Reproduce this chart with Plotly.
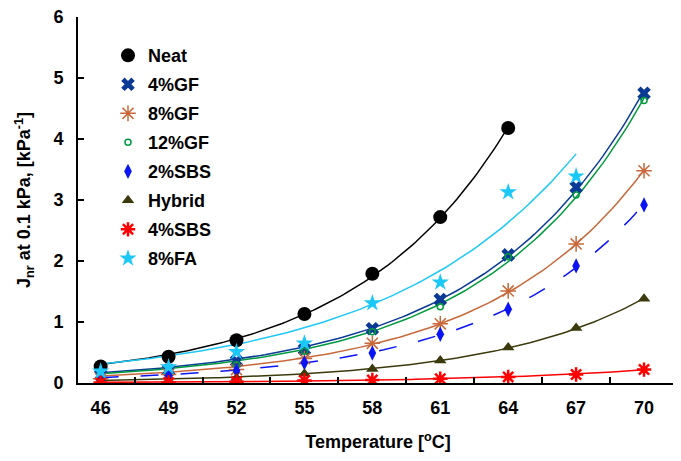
import numpy as np
import plotly.graph_objects as go

temps = [46, 49, 52, 55, 58, 61, 64, 67, 70]
tick_labels = ["46", "49", "52", "55", "58", "61", "64", "67", "70"]

neat = [0.27, 0.43, 0.70, 1.13, 1.79, 2.72, 4.18]
gf4 = [0.13, 0.21, 0.36, 0.55, 0.89, 1.37, 2.10, 3.21, 4.75]
gf8 = [0.07, 0.14, 0.22, 0.40, 0.65, 0.97, 1.51, 2.28, 3.48]
gf12 = [0.10, 0.18, 0.30, 0.52, 0.84, 1.25, 2.07, 3.08, 4.63]
sbs2 = [0.05, 0.12, 0.20, 0.33, 0.49, 0.80, 1.21, 1.92, 2.92]
hybrid = [0.02, 0.04, 0.08, 0.15, 0.23, 0.37, 0.58, 0.90, 1.38]
sbs4 = [0.01, 0.01, 0.02, 0.04, 0.05, 0.07, 0.10, 0.14, 0.22]
fa8 = [0.19, 0.26, 0.51, 0.65, 1.31, 1.65, 3.13, 3.39]

names = ["Neat", "4%GF", "8%GF", "12%GF", "2%SBS", "Hybrid", "4%SBS", "8%FA"]
series = [neat, gf4, gf8, gf12, sbs2, hybrid, sbs4, fa8]
colors = ["#000000", "#0B3A96", "#C8683A", "#009A3E", "#0A14F5", "#3A3A0C", "#FF0000", "#1CC8F8"]
symbols = ["circle", "x", "asterisk-open", "circle-open", "diamond-tall", "triangle-up", "asterisk-open", "star"]
sizes = [14, 12, 13, 6, 11, 11, 12, 13]
mlw = [0, 0, 1.5, 1.5, 0, 0, 2.5, 0]
dashes = ["solid", "solid", "solid", "solid", "18px,22px", "solid", "solid", "solid"]

fig = go.Figure()

# exponential trendlines (least squares fit of y = A*exp(B*T), weighted log fit)
for vals, c, d in zip(series, colors, dashes):
    xs = np.array(temps[:len(vals)], dtype=float)
    yv = np.array(vals, dtype=float)
    b, a = np.polyfit(xs, np.log(yv), 1, w=yv)
    xf = np.linspace(xs[0], xs[-1], 120)
    fig.add_trace(go.Scatter(x=xf, y=np.exp(a + b * xf), mode="lines",
                             line=dict(color=c, width=1.5, dash=d),
                             showlegend=False, hoverinfo="skip"))

for i, (nm, vals, c, s, sz, lw) in enumerate(zip(names, series, colors, symbols, sizes, mlw)):
    fig.add_trace(go.Scatter(x=temps[:len(vals)], y=vals, mode="markers", name=nm,
                             legendgroup=nm,
                             marker=dict(symbol=s, size=sz, color=c,
                                         line=dict(color=c, width=lw))))

font_b = dict(family="Liberation Sans, Arial, sans-serif", size=18, color="black", weight="bold")

# the page body has an 8px margin, so the figure is sized to fit the window
fig.update_layout(
    width=673, height=453,
    margin=dict(l=70, r=3, t=9, b=78),
    plot_bgcolor="white", paper_bgcolor="white",
    font=font_b,
    xaxis=dict(range=[45, 71.5], tickmode="array", tickvals=temps, ticktext=tick_labels,
               ticks="", showline=True, linecolor="black", linewidth=2, showgrid=False,
               zeroline=False, ticklabelstandoff=7, automargin=False,
               minor=dict(tickmode="linear", tick0=47.5, dtick=3, ticks="inside",
                          ticklen=6, tickwidth=2, tickcolor="black", showgrid=False),
               title=dict(text="Temperature [<sup>o</sup>C]", font=font_b, standoff=19)),
    yaxis=dict(range=[0, 6], tickvals=[0, 1, 2, 3, 4, 5, 6], ticks="inside", ticklen=6,
               tickwidth=2, tickcolor="black", showline=True, linecolor="black", linewidth=2,
               showgrid=False, zeroline=False, ticklabelstandoff=9, automargin=False,
               ticklabeloverflow="allow",
               title=dict(text="J<sub>nr</sub> at 0.1 kPa, [kPa<sup>-1</sup>]", font=font_b, standoff=18)),
    legend=dict(x=0.05, y=0.945, xanchor="left", yanchor="top", bgcolor="rgba(0,0,0,0)",
                font=font_b, tracegroupgap=2.6, itemsizing="trace"),
)

fig.write_html("out.html")
